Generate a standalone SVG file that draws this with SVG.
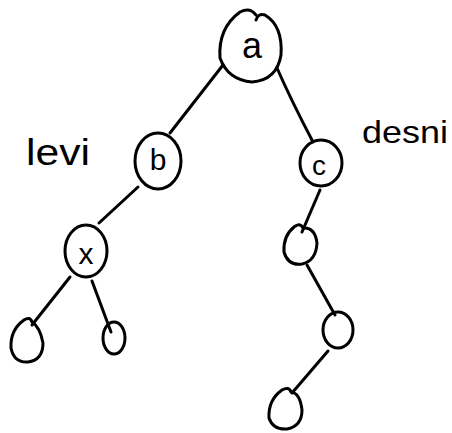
<svg xmlns="http://www.w3.org/2000/svg" width="452" height="433" viewBox="0 0 452 433">
<style>
.n{fill:none;stroke:#000;stroke-width:3;stroke-linecap:round;stroke-linejoin:round}
.e{fill:none;stroke:#000;stroke-width:3;stroke-linecap:round}
.t{font-family:"Liberation Sans",Arial,sans-serif;fill:#000;text-anchor:middle}
.l{font-family:"Liberation Sans",Arial,sans-serif;fill:#000}
</style>
<rect width="452" height="433" fill="#fff"/>
<g id="connectors">
<path class="e" d="M223,65 L170,133"/>
<path class="e" d="M277,68 Q291,100 313,142"/>
<path class="e" d="M138,187 L99,223"/>
<path class="e" d="M320,190 L302,232"/>
<path class="e" d="M307,265 L335,315"/>
<path class="e" d="M328,351 L292,393"/>
<path class="e" d="M70,277 L32,325"/>
<path class="e" d="M92,281 L111,332"/>
</g>
<g id="node-a">
<path class="n" d="M256,15 Q250,7 240,12 Q218,28 220,58 Q228,80 252,82 Q277,80 281,55 Q283,26 265,15 Q258,13 256,20"/>
<text class="t" x="252" y="58" font-size="36">a</text>
</g>
<g id="node-b">
<ellipse class="n" cx="158" cy="161" rx="23" ry="28"/>
<text class="t" x="158" y="170" font-size="30">b</text>
</g>
<g id="node-c">
<ellipse class="n" cx="321" cy="163" rx="21" ry="23"/>
<text class="t" x="319" y="175" font-size="28">c</text>
</g>
<g id="node-x">
<ellipse class="n" cx="86" cy="251" rx="21" ry="26"/>
<text class="t" x="86" y="264" font-size="30">x</text>
</g>
<g id="node-x-left">
<path class="n" d="M32,322 Q30,316 24,320 Q10,330 11,348 Q14,363 28,362 Q43,360 43,343 Q40,327 32,322"/>
</g>
<g id="node-x-right">
<ellipse class="n" cx="114" cy="338" rx="11" ry="16"/>
</g>
<g id="node-c1">
<path class="n" d="M303,228 Q300,222 294,227 Q283,236 284,252 Q288,266 302,264 Q316,261 317,243 Q315,227 303,228"/>
</g>
<g id="node-c2">
<ellipse class="n" cx="338" cy="330" rx="15" ry="18"/>
</g>
<g id="node-c3">
<path class="n" d="M291,392 Q289,386 282,390 Q268,400 269,418 Q273,430 287,429 Q302,426 302,410 Q300,393 291,392"/>
</g>
<text class="l" x="26" y="165" font-size="36" textLength="64" lengthAdjust="spacingAndGlyphs">levi</text>
<text class="l" x="362" y="143" font-size="32" textLength="86" lengthAdjust="spacingAndGlyphs">desni</text>
</svg>
